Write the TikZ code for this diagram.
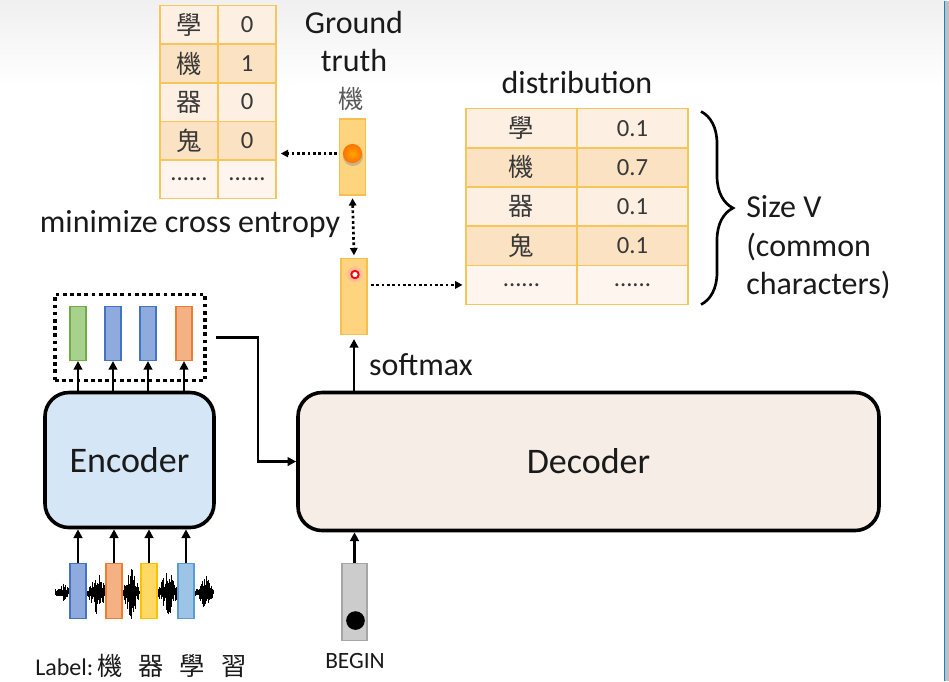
\documentclass[tikz,border=0pt]{standalone}
\usepackage{fontspec}
\setmainfont{Carlito}
\newfontfamily\cjk{Noto Sans CJK TC}
\usetikzlibrary{arrows.meta,decorations.pathreplacing,calc}
\definecolor{gold}{HTML}{F7C55A}
\definecolor{rowA}{HTML}{FDF0E2}
\definecolor{rowB}{HTML}{FBE2C3}
\definecolor{rowC}{HTML}{FEF6EE}
\definecolor{vecY}{HTML}{FFD47E}
\definecolor{vecYb}{HTML}{F7BF4E}
\definecolor{encfill}{HTML}{D5E6F6}
\definecolor{decfill}{HTML}{F6EEE6}
\definecolor{gfill}{HTML}{A9D18E}\definecolor{gline}{HTML}{70AD47}
\definecolor{bfill}{HTML}{8FAADC}\definecolor{bline}{HTML}{4472C4}
\definecolor{ofill}{HTML}{F4B183}\definecolor{oline}{HTML}{ED7D31}
\definecolor{yfill}{HTML}{FFD966}\definecolor{yline}{HTML}{FFC000}
\definecolor{lbfill}{HTML}{9DC3E6}\definecolor{lbline}{HTML}{5B9BD5}
\definecolor{txt}{HTML}{1A1A1A}
\newcommand\zhtxt[1]{{\cjk\fontsize{19}{21}\selectfont #1}}
\newcommand\sixdots{......}
\begin{document}
\begin{tikzpicture}[x=0.75pt,y=-0.75pt,
  every node/.style={text=txt},
  lbl/.style={font=\fontsize{24}{29}\selectfont, inner sep=0pt},
  cell/.style={draw=gold, line width=1.2pt, inner sep=0pt, font=\fontsize{18.5}{20}\selectfont, text=black!78},
  gtcell/.style={cell, minimum width=43.5pt, minimum height=28.95pt},
  dtcell/.style={cell, minimum width=83.25pt, minimum height=29.4pt},
  vec/.style={draw, line width=0.8pt, inner sep=0pt, minimum width=12pt, minimum height=40.5pt},
  ivec/.style={draw, line width=0.8pt, inner sep=0pt, minimum width=12pt, minimum height=41.25pt},
  yvec/.style={draw=vecYb, fill=vecY, line width=0.8pt, inner sep=0pt, minimum width=19.5pt, minimum height=57pt},
  blk/.style={draw=black, line width=2.7pt, rounded corners=18pt, inner sep=0pt, font=\fontsize{27}{30}\selectfont},
  arr/.style={line width=2.2pt, -{Triangle[length=6.5pt,width=6.5pt]}},
  darr/.style={line width=2pt, dash pattern=on 2pt off 2pt, -{Triangle[length=5.5pt,width=5.5pt]}},
  wave/.style={line width=0.5pt, black}
]
% background
\fill[white] (0,0) rectangle (949,680);
\shade[top color=black!6, bottom color=white] (0,0) rectangle (944,85);
\fill[black!25] (945,0) rectangle (949,680);
\draw[cyan!70!blue, line width=0.8pt] (944.5,0) -- (944.5,680);
\useasboundingbox (0,0) rectangle (949,680);

% ground truth table
\foreach \r/\ch/\v/\f in {1/{\zhtxt{學}}/0/rowA, 2/{\zhtxt{機}}/1/rowB, 3/{\zhtxt{器}}/0/rowA, 4/{\zhtxt{鬼}}/0/rowB, 5/{\sixdots}/{\sixdots}/rowC}{
  \pgfmathsetmacro\yy{5+38.6*(\r-0.5)}
  \node[gtcell, fill=\f] (gt\r-a) at (189,\yy) {\ch};
  \node[gtcell, fill=\f] (gt\r-b) at (247,\yy) {\v};
}
% distribution table
\foreach \r/\ch/\v/\f in {1/{\zhtxt{學}}/0.1/rowA, 2/{\zhtxt{機}}/0.7/rowB, 3/{\zhtxt{器}}/0.1/rowA, 4/{\zhtxt{鬼}}/0.1/rowB, 5/{\sixdots}/{\sixdots}/rowC}{
  \pgfmathsetmacro\yy{108+39.2*(\r-0.5)}
  \node[dtcell, fill=\f] (dt\r-a) at (521.5,\yy) {\ch};
  \node[dtcell, fill=\f] (dt\r-b) at (632.5,\yy) {\v};
}

% labels
\node[lbl, align=center] (gtlabel) at (354,41) {Ground\\truth};
\node[text=black!65, inner sep=0pt] (gtchar) at (351,98) {\zhtxt{機}};
\node[lbl] (distl) at (577,82) {distribution};
\node[lbl] (mce) at (190,224) {minimize cross entropy};
\node[lbl, align=left, anchor=west] (sizev) at (746,247) {Size V\\(common\\characters)};

% ground truth vector
\node[yvec] (gtv) at (352.5,156.5) {};
\coordinate (gtdot) at (352.5,153);
\fill[black!45, opacity=.45] ($(gtdot)+(0.5,2.5)$) circle[radius=7.5pt];
\shade[inner color=orange!70!yellow, outer color=orange!90!red] (gtdot) circle[radius=7.2pt];

% output vector
\node[yvec] (outv) at (354,296) {};
\coordinate (ring) at (355,274);
\fill[red!30, opacity=.6] (ring) circle[radius=6pt];
\draw[red, line width=1.4pt, fill=white] (ring) circle[radius=2.8pt];

% dotted connectors
\draw[darr] ([xshift=-1.5pt]gtv.west |- gtdot) -- ([xshift=3pt]gt4-b.east |- gtdot);
\draw[darr, {Triangle[length=5.5pt,width=5.5pt]}-{Triangle[length=5.5pt,width=5.5pt]}] ([yshift=-2pt]gtv.south) -- ([yshift=2pt]outv.north);
\draw[darr] ([xshift=2.5pt]outv.east |- dt5-a.west) -- ([xshift=-2pt]dt5-a.west);

% brace
\draw[line width=2pt, decorate, decoration={brace, amplitude=24pt}] (701,111) -- (701,304);

% encoder output box
\node[draw, line width=2.8pt, dash pattern=on 2.8pt off 2.6pt, minimum width=112.5pt, minimum height=64.5pt, inner sep=0pt] (ebox) at (130,337) {};
\node[vec, draw=gline, fill=gfill] (e1) at (78,333) {};
\node[vec, draw=bline, fill=bfill] (e2) at (113,333) {};
\node[vec, draw=bline, fill=bfill] (e3) at (148,333) {};
\node[vec, draw=oline, fill=ofill] (e4) at (184,333) {};

% encoder / decoder
\node[blk, fill=encfill, minimum width=126.75pt, minimum height=101.25pt] (enc) at (129.5,459.5) {Encoder};
\node[blk, fill=decfill, minimum width=435.75pt, minimum height=103.5pt] (dec) at (588.5,461) {Decoder};

\foreach \i in {1,...,4} \draw[arr] (e\i.south |- enc.north) -- (e\i.south);

\coordinate (bend) at (258,337);
\draw[arr] ([xshift=7pt]ebox.east) -- (bend) |- (dec.west);

\draw[arr] (outv.south |- dec.north) -- ([yshift=-3pt]outv.south);
\node[lbl] (smx) at (421,364) {softmax};

% waveform
\pgfmathsetseed{7}
\foreach \i in {0,...,220}{
  \pgfmathsetmacro\xx{55+\i*0.72}
  \pgfmathsetmacro\env{3.5+7*max(0,1-abs(\xx-63)/6)+20*max(0,1-abs(\xx-97)/10)+24*max(0,1-abs(\xx-131)/9)+22*max(0,1-abs(\xx-168)/10)+22*max(0,1-abs(\xx-205)/8)}
  \pgfmathsetmacro\up{\env*(0.25+0.75*rnd)}
  \pgfmathsetmacro\dn{\env*(0.25+0.75*rnd)}
  \draw[wave] (\xx,592-\up) -- (\xx,592+\dn);
}

% input vectors
\node[ivec, draw=bline, fill=bfill] (i1) at (78,590.5) {};
\node[ivec, draw=oline, fill=ofill] (i2) at (114,590.5) {};
\node[ivec, draw=yline, fill=yfill] (i3) at (149,590.5) {};
\node[ivec, draw=lbline, fill=lbfill] (i4) at (186,590.5) {};
\foreach \i in {1,...,4} \draw[arr] (i\i.north) -- (i\i.north |- enc.south);

% BEGIN
\node[draw=black!35, fill=black!20, line width=0.8pt, minimum width=18.75pt, minimum height=57.75pt, inner sep=0pt] (beg) at (354.5,601.5) {};
\node[circle, fill=black, minimum size=14pt, inner sep=0pt] (begdot) at (355.5,620) {};
\node[font=\fontsize{17.5}{20}\selectfont, inner sep=0pt] (begl) at (355,660) {BEGIN};
\draw[arr] (beg.north) -- (beg.north |- dec.south);

% label
\node[anchor=west, font=\fontsize{18}{20}\selectfont, inner sep=0pt] (lab) at (35,665) {Label:\hspace{3pt}\zhtxt{機\hspace{12pt}器\hspace{12pt}學\hspace{12pt}習}};
\end{tikzpicture}
\end{document}
